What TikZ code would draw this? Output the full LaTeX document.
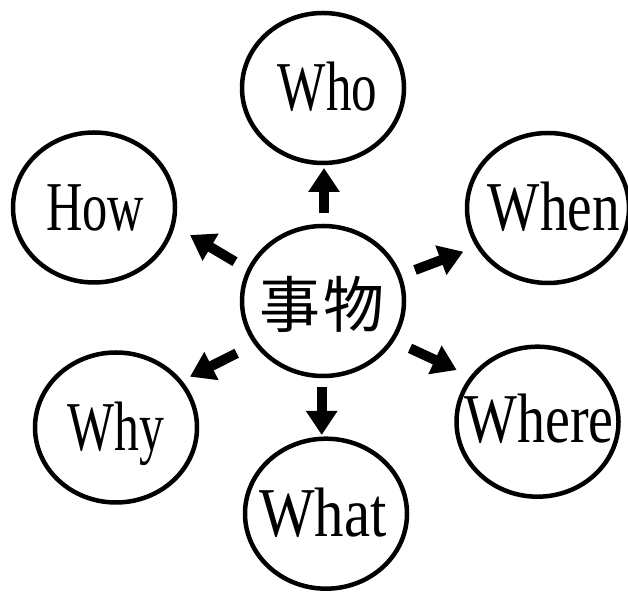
\documentclass[tikz,border=0pt]{standalone}
\usepackage{fontspec}
\usepackage{graphicx}
\newfontfamily\latinf{Liberation Serif}
\newfontfamily\cjkf{Noto Sans CJK SC}
\usetikzlibrary{arrows.meta,calc,shapes.geometric}
\tikzset{
  bub/.style={draw=black,line width=4.5pt,ellipse,minimum width=162pt,minimum height=150pt,inner sep=0pt},
  word/.style={inner sep=0pt,font=\latinf\fontsize{70}{80}\selectfont,text height=46pt,text depth=0pt},
  cjkword/.style={inner sep=0pt,font=\cjkf\fontsize{61}{70}\selectfont},
  arr/.style={line width=10pt,-{Triangle[length=24pt,width=30pt]}}
}
\begin{document}
\begin{tikzpicture}[x=1pt,y=1pt]
\useasboundingbox (0,0) rectangle (628,593);
\node[bub] (c) at (323,292) {};
\node[bub] (who) at (323,505) {};
\node[bub] (how) at (94,385.5) {};
\node[bub] (when) at (548,385) {};
\node[bub] (why) at (116,165.5) {};
\node[bub] (where) at (537.5,171.3) {};
\node[bub] (what) at (326,79.3) {};
\node[cjkword] (tc) at ($(c)+(-1,-3)$) {事\hspace{4pt}物};
\node[word] (twho) at ($(who)+(4.5,0)$) {\scalebox{0.73}[1]{Who}};
\node[word] (thow) at ($(how)+(1,0)$) {\scalebox{0.72}[1]{How}};
\node[word] (twhen) at ($(when)+(6,0)$) {\scalebox{0.79}[1]{When}};
\node[word] (twhy) at ($(why)+(0,0)$) {\scalebox{0.71}[1]{Why}};
\node[word] (twhere) at ($(where)+(1.5,2.5)$) {\scalebox{0.8}[1]{Where}};
\node[word] (twhat) at ($(what)+(-3,0)$) {\scalebox{0.84}[1]{What}};
\draw[arr] ($(c)+(1,88)$) -- ($(who)+(1,-80)$);
\draw[arr] ($(c)+(-88,39.3)$) -- ($(how)+(96,-27.5)$);
\draw[arr] ($(c)+(92,31)$) -- ($(when)+(-84.7,-43.7)$);
\draw[arr] ($(c)+(-86.3,-52.3)$) -- ($(why)+(74,50.8)$);
\draw[arr] ($(c)+(87,-47.3)$) -- ($(where)+(-80.8,51.7)$);
\draw[arr] ($(c)+(-1.3,-85.7)$) -- ($(what)+(-4.3,78.7)$);
\end{tikzpicture}
\end{document}
